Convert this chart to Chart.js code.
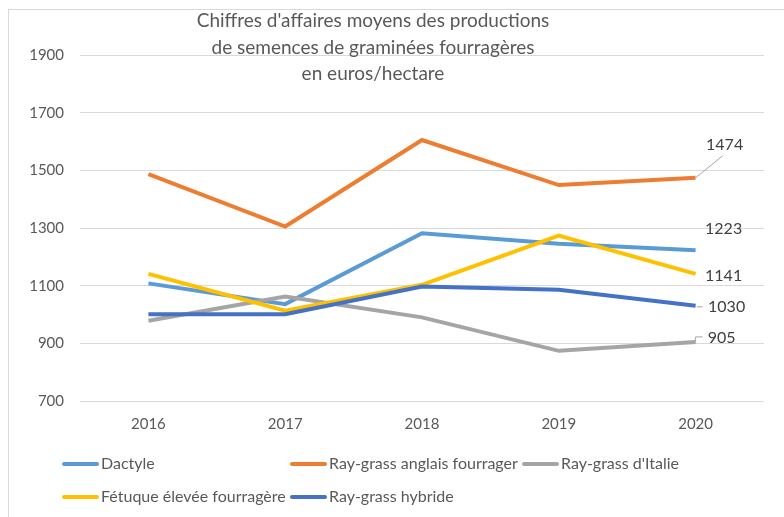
<!DOCTYPE html>
<html lang="fr">
<head>
    <meta charset="UTF-8">
    <title>Chiffres d'affaires semences</title>
    <script src="https://cdn.jsdelivr.net/npm/chart.js@4/dist/chart.umd.min.js"></script>
    <style>
        body {
            margin: 0;
            background: white;
        }
        .frame {
            position: absolute;
            left: 8px;
            top: 9px;
            width: 800px;
            height: 600px;
            border-left: 1px solid #d9d9d9;
            border-top: 1px solid #d9d9d9;
        }
        #chart {
            position: absolute;
            left: 0;
            top: 0;
        }
    </style>
</head>
<body>
    <div class="frame"></div>
    <canvas id="chart" width="784" height="517"></canvas>

<script>
// data
const years = ['2016', '2017', '2018', '2019', '2020'];
const dactyle = [1108, 1036, 1282, 1245, 1223];
const rgAnglais = [1487, 1305, 1605, 1449, 1474];
const rgItalie = [978, 1062, 990, 874, 905];
const fetuque = [1141, 1013, 1103, 1274, 1141];
const rgHybride = [1001, 1001, 1097, 1086, 1030];

const titleLines = [
  "Chiffres d'affaires moyens des productions",
  "de semences de graminées fourragères",
  "en euros/hectare"
];

const FONT = "Lato, 'Open Sans', sans-serif";

// last point label : offset of the text + leader line
const endLabels = [
  { dx: 28, dy: -21, leader: null },                          // Dactyle
  { dx: 29, dy: -33, leader: [[0, 0], [27, -22]] },            // RG anglais
  { dx: 26, dy: -4, leader: [[0, 0], [0, -5], [7, -5]] },      // RG Italie
  { dx: 28, dy: 2, leader: null },                             // Fétuque
  { dx: 31, dy: 1, leader: [[1, 1], [7, 1]] }                  // RG hybride
];

// legend drawn like excel : fixed columns
const legendPos = [
  [62, 464], [290, 464], [522, 464],
  [62, 497], [290, 497]
];

const titlePlugin = {
  id: 'titleLines',
  afterDraw(chart) {
    const ctx = chart.ctx;
    ctx.save();
    ctx.fillStyle = '#595959';
    ctx.font = '19px ' + FONT;
    ctx.textAlign = 'center';
    ctx.textBaseline = 'middle';
    titleLines.forEach((t, i) => ctx.fillText(t, 373, 21 + i * 26.5));
    ctx.restore();
  }
};

const endLabelPlugin = {
  id: 'endLabels',
  afterDatasetsDraw(chart) {
    const ctx = chart.ctx;
    ctx.save();
    chart.data.datasets.forEach((ds, i) => {
      const meta = chart.getDatasetMeta(i);
      const last = meta.data[meta.data.length - 1];
      const cfg = endLabels[i];
      if (cfg.leader) {
        ctx.strokeStyle = '#a6a6a6';
        ctx.lineWidth = 1;
        ctx.beginPath();
        cfg.leader.forEach((p, k) => {
          if (k == 0) ctx.moveTo(last.x + p[0], last.y + p[1]);
          else ctx.lineTo(last.x + p[0], last.y + p[1]);
        });
        ctx.stroke();
      }
      ctx.fillStyle = '#404040';
      ctx.font = '16px ' + FONT;
      ctx.textAlign = 'center';
      ctx.textBaseline = 'middle';
      ctx.fillText(String(ds.data[ds.data.length - 1]), last.x + cfg.dx, last.y + cfg.dy);
    });
    ctx.restore();
  }
};

const legendPlugin = {
  id: 'fixedLegend',
  afterDraw(chart) {
    const ctx = chart.ctx;
    ctx.save();
    ctx.font = '16px ' + FONT;
    ctx.textBaseline = 'middle';
    ctx.textAlign = 'left';
    chart.data.datasets.forEach((ds, i) => {
      const [x, y] = legendPos[i];
      ctx.strokeStyle = ds.borderColor;
      ctx.lineWidth = 4;
      ctx.lineCap = 'round';
      ctx.beginPath();
      ctx.moveTo(x + 2, y);
      ctx.lineTo(x + 35, y);
      ctx.stroke();
      ctx.fillStyle = '#595959';
      ctx.fillText(ds.label, x + 39, y);
    });
    ctx.restore();
  }
};

function makeSet(label, data, color, order) {
  return {
    label: label,
    data: data,
    borderColor: color,
    backgroundColor: color,
    borderWidth: 4,
    pointRadius: 0,
    tension: 0,
    fill: false,
    order: order
  };
}

const myChart = new Chart('chart', {
  type: 'line',
  data: {
    labels: years,
    datasets: [
      makeSet('Dactyle', dactyle, '#5b9bd5', 5),
      makeSet('Ray-grass anglais fourrager', rgAnglais, '#ed7d31', 4),
      makeSet("Ray-grass d'Italie", rgItalie, '#a5a5a5', 3),
      makeSet('Fétuque élevée fourragère', fetuque, '#ffc000', 2),
      makeSet('Ray-grass hybride', rgHybride, '#4472c4', 1)
    ]
  },
  options: {
    responsive: false,
    animation: false,
    layout: {
      padding: { left: 0, right: 20, top: 55, bottom: 76 }
    },
    plugins: {
      legend: { display: false },
      title: { display: false },
      tooltip: { enabled: false }
    },
    scales: {
      x: {
        offset: true,
        grid: { display: false, drawTicks: false },
        border: { display: false },
        ticks: { color: '#595959', font: { family: FONT, size: 15 }, padding: 14 },
        afterFit(scale) { scale.height = 40; }
      },
      y: {
        min: 700,
        max: 1900,
        ticks: {
          stepSize: 200,
          color: '#595959',
          font: { family: FONT, size: 15 },
          padding: 16,
          callback: (v) => String(v)
        },
        grid: { color: '#d9d9d9', lineWidth: 1, drawTicks: false },
        border: { display: false },
        afterFit(scale) { scale.width = 80; }
      }
    }
  },
  plugins: [titlePlugin, endLabelPlugin, legendPlugin]
});
</script>
</body>
</html>
